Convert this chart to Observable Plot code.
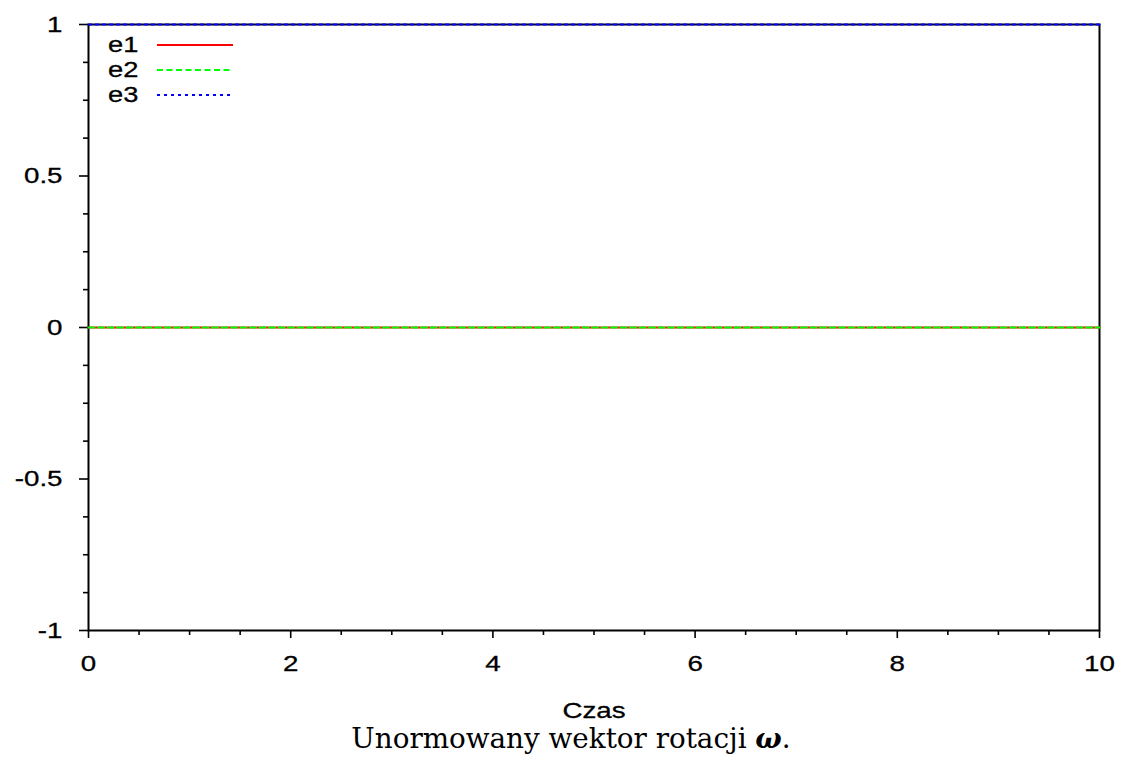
<!DOCTYPE html>
<html>
<head>
<meta charset="utf-8">
<script src="https://cdn.jsdelivr.net/npm/d3@7"></script>
<script src="https://cdn.jsdelivr.net/npm/@observablehq/plot@0.6"></script>
<style>
  html, body { margin: 0; padding: 0; background: #fff; }
  #wrap { position: relative; width: 1124px; }
  #legend { position: absolute; left: 108px; top: 32px; font-family: "Liberation Sans", Arial, sans-serif; font-size: 22px; line-height: 25px; -webkit-text-stroke: 0.3px #000; }
  #legend .row { display: flex; align-items: center; height: 25px; }
  #legend .lab { width: 49px; display: inline-block; }
  #legend .lab span { display: inline-block; transform: scaleX(1.24); transform-origin: left center; }
  #caption { font-family: "DejaVu Serif", serif; font-size: 27.8px; text-align: center; width: 1124px; padding-left: 18px; box-sizing: border-box; line-height: 34px; margin-top: 0px; }
</style>
</head>
<body>
<div id="wrap">
  <div id="chart"></div>
  <div id="legend"></div>
  <div id="caption">Unormowany wektor rotacji <b><i>ω</i></b>.</div>
</div>
<script>
const time = [0, 1, 2, 3, 4, 5, 6, 7, 8, 9, 10];
const e1 = [0, 0, 0, 0, 0, 0, 0, 0, 0, 0, 0];
const e2 = [0, 0, 0, 0, 0, 0, 0, 0, 0, 0, 0];
const e3 = [1, 1, 1, 1, 1, 1, 1, 1, 1, 1, 1];
const seriesNames = ["e1", "e2", "e3"];
const seriesColors = ["#ff0000", "#00ff00", "#0000ff"];
const seriesDash = [null, "6,3.5", "3,4"];
const xMajor = [0, 2, 4, 6, 8, 10];
const xMinor = [0.5, 1, 1.5, 2.5, 3, 3.5, 4.5, 5, 5.5, 6.5, 7, 7.5, 8.5, 9, 9.5];
const yMajor = [-1, -0.5, 0, 0.5, 1];
const yMinor = [-0.875, -0.75, -0.625, -0.375, -0.25, -0.125, 0.125, 0.25, 0.375, 0.625, 0.75, 0.875];

const seriesVals = [e1, e2, e3];
const rows = [];
seriesNames.forEach((s, i) => time.forEach((t, j) => rows.push({t, v: seriesVals[i][j], s})));

const font = "Liberation Sans, Arial, sans-serif";
const chart = Plot.plot({
  width: 1124,
  height: 722,
  marginLeft: 88,
  marginRight: 25,
  marginTop: 24,
  marginBottom: 92,
  style: {fontFamily: font, fontSize: "22px", color: "#000", background: "#fff"},
  x: {domain: [0, 10]},
  y: {domain: [-1, 1]},
  marks: [
    Plot.axisX(xMajor, {tickSize: 8, tickPadding: 17, strokeWidth: 1.6, tickFormat: d => String(d), label: null, fontSize: 22}),
    Plot.axisX(xMinor, {tickSize: 5, strokeWidth: 1.6, tickFormat: null, text: null, label: null}),
    Plot.axisY(yMajor, {tickSize: 9, tickPadding: 17, strokeWidth: 1.6, tickFormat: d => String(d), label: null, fontSize: 22}),
    Plot.axisY(yMinor, {tickSize: 5, strokeWidth: 1.6, tickFormat: null, text: null, label: null}),
    Plot.frame({stroke: "#000", strokeWidth: 2}),
    ...seriesNames.map((s, i) => Plot.line(rows.filter(r => r.s === s), {
      x: "t", y: "v", stroke: seriesColors[i], strokeWidth: 2, strokeDasharray: seriesDash[i], clip: false
    })),
    Plot.text(["Czas"], {frameAnchor: "bottom", lineAnchor: "middle", dy: 80, text: d => d, fontSize: 22, fill: "#000"})
  ]
});
document.getElementById("chart").appendChild(chart);

// widen the sans glyphs horizontally (about each text's own anchor point),
// like the reference's horizontally stretched Helvetica
chart.querySelectorAll("text").forEach(t => {
  const ax = parseFloat(t.getAttribute("x")) || 0;
  const prev = t.getAttribute("transform") || "";
  t.setAttribute("transform", `${prev} translate(${ax},0) scale(1.26,1) translate(${-ax},0)`.trim());
  t.style.stroke = "#000";
  t.style.strokeWidth = "0.3px";
});

const legend = document.getElementById("legend");
seriesNames.forEach((s, i) => {
  const row = document.createElement("div");
  row.className = "row";
  const dash = seriesDash[i] ? ` stroke-dasharray="${seriesDash[i]}"` : "";
  row.innerHTML = `<span class="lab"><span>${s}</span></span><svg width="78" height="6"><line x1="0" x2="76" y1="3" y2="3" stroke="${seriesColors[i]}" stroke-width="2"${dash}/></svg>`;
  legend.appendChild(row);
});
</script>
</body>
</html>
